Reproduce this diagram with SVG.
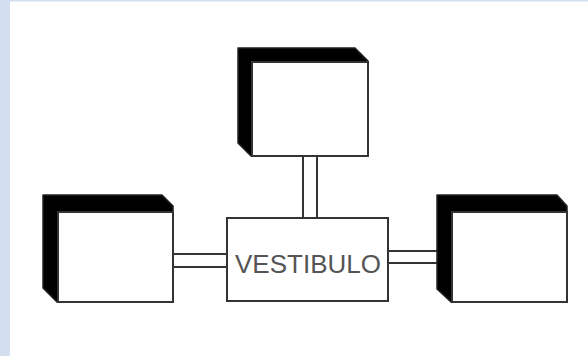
<svg xmlns="http://www.w3.org/2000/svg" width="588" height="356" viewBox="0 0 588 356">
<style>
.sh{fill:#000;stroke:#222;stroke-width:1.5;stroke-linejoin:round}
.bx{fill:#fff;stroke:#333;stroke-width:2}
.ln{stroke:#333;stroke-width:2;fill:none}
.lbl{font-family:"Liberation Sans",Arial,sans-serif;font-size:26px;fill:#555}
</style>
<rect x="0" y="0" width="588" height="356" fill="#fff"/>
<rect x="0" y="0" width="10" height="356" fill="#d3deef"/>
<rect x="0" y="0" width="588" height="1.5" fill="#d3deef"/>
<g id="connectors">
<line class="ln" x1="303" y1="156" x2="303" y2="218"/>
<line class="ln" x1="317" y1="156" x2="317" y2="218"/>
<line class="ln" x1="173" y1="254" x2="227" y2="254"/>
<line class="ln" x1="173" y1="267" x2="227" y2="267"/>
<line class="ln" x1="388" y1="251" x2="437" y2="251"/>
<line class="ln" x1="388" y1="263" x2="437" y2="263"/>
</g>
<g id="top">
<polygon class="sh" points="238,48 355,48 368,61 368,156 251,156 238,143"/>
<rect class="bx" x="252" y="62" width="116" height="94"/>
</g>
<g id="left">
<polygon class="sh" points="43,195 162,195 173,206 173,302 57,302 43,288"/>
<rect class="bx" x="58" y="212" width="115" height="90"/>
</g>
<g id="right">
<polygon class="sh" points="437,195 557,195 567,206 567,302 451,302 437,289"/>
<rect class="bx" x="452" y="212" width="115" height="90"/>
</g>
<g id="vestibulo">
<rect class="bx" x="227" y="218" width="161" height="83"/>
<text class="lbl" x="308" y="273" text-anchor="middle">VESTIBULO</text>
</g>
</svg>
